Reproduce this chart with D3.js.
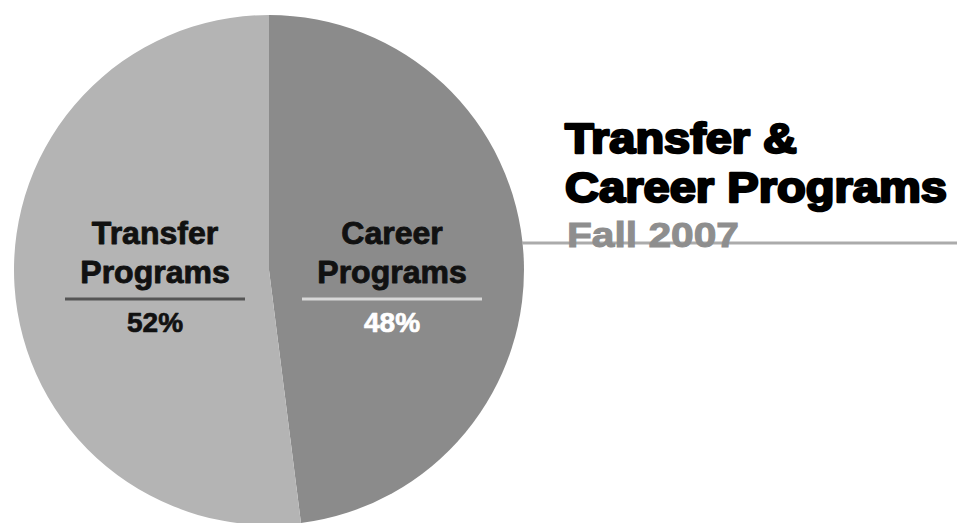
<!DOCTYPE html>
<html>
<head>
<meta charset="utf-8">
<script src="https://cdn.jsdelivr.net/npm/d3@7"></script>
<style>
  html, body { margin: 0; padding: 0; background: #fff; }
  svg { display: block; }
</style>
</head>
<body>
<svg id="chart" width="957" height="523"></svg>
<script>
// Enrollment split, Fall 2007
const categories = ["Career Programs", "Transfer Programs"];
const labelLines = [["Career", "Programs"], ["Transfer", "Programs"]];
const shares = [48, 52];
const titleLines = ["Transfer &", "Career Programs"];
const subtitle = "Fall 2007";

const sliceFill = ["#8b8b8b", "#b4b4b4"];
const ruleColor = ["#d8d8d8", "#555555"];
const pctColor = ["#ffffff", "#111111"];

const W = 957, H = 523;
const cx = 269, cy = 270, R = 255;

const svg = d3.select("#chart");
const g = svg.append("g").attr("transform", `translate(${cx},${cy})`);

const data = categories.map((c, i) => ({ name: c, value: shares[i], i }));
const pie = d3.pie().sort(null).value(d => d.value);
const arc = d3.arc().innerRadius(0).outerRadius(R);
const arcs = pie(data);

// Subtitle rule runs out from the pie's right edge behind "Fall 2007"
svg.append("line")
  .attr("x1", cx + R - 2).attr("x2", W)
  .attr("y1", 243).attr("y2", 243)
  .attr("stroke", "#ababab").attr("stroke-width", 3);

g.selectAll("path.slice")
  .data(arcs)
  .join("path")
  .attr("class", "slice")
  .attr("d", arc)
  .attr("fill", (d, i) => sliceFill[i]);

// Label blocks: two-line name, rule, percentage
const labelX = [123, -114];
const font = "'Liberation Sans', Arial, sans-serif";

arcs.forEach((a, i) => {
  const lg = g.append("g").attr("transform", `translate(${labelX[i]},0)`);
  labelLines[i].forEach((t, k) => {
    lg.append("text")
      .attr("x", 0).attr("y", -26 + k * 39)
      .attr("text-anchor", "middle")
      .attr("font-family", font)
      .attr("font-weight", "bold")
      .attr("font-size", 32)
      .attr("fill", "#111")
      .attr("stroke", "#111").attr("stroke-width", 0.9)
      .attr("stroke-linejoin", "round")
      .text(t);
  });
  lg.append("line")
    .attr("x1", -90).attr("x2", 90)
    .attr("y1", 29).attr("y2", 29)
    .attr("stroke", ruleColor[i]).attr("stroke-width", 3);
  lg.append("text")
    .attr("x", 0).attr("y", 62)
    .attr("text-anchor", "middle")
    .attr("font-family", font)
    .attr("font-weight", "bold")
    .attr("font-size", 28)
    .attr("fill", pctColor[i])
    .attr("stroke", pctColor[i]).attr("stroke-width", 0.7)
    .attr("stroke-linejoin", "round")
    .text(d3.format("d")(a.data.value) + "%");
});

// Title
const titleWidths = [232, 382];
titleLines.forEach((t, k) => {
  svg.append("text")
    .attr("x", 565).attr("y", 153 + k * 49)
    .attr("font-family", font)
    .attr("font-weight", "bold")
    .attr("font-size", 42)
    .attr("fill", "#000")
    .attr("stroke", "#000").attr("stroke-width", 2.4)
    .attr("stroke-linejoin", "round")
    .attr("textLength", titleWidths[k])
    .attr("lengthAdjust", "spacingAndGlyphs")
    .text(t);
});

svg.append("text")
  .attr("x", 567).attr("y", 247)
  .attr("font-family", font)
  .attr("font-weight", "bold")
  .attr("font-size", 35)
  .attr("fill", "#8e8e8e")
  .attr("stroke", "#8e8e8e").attr("stroke-width", 1)
  .attr("textLength", 172)
  .attr("lengthAdjust", "spacingAndGlyphs")
  .text(subtitle);
</script>
</body>
</html>
